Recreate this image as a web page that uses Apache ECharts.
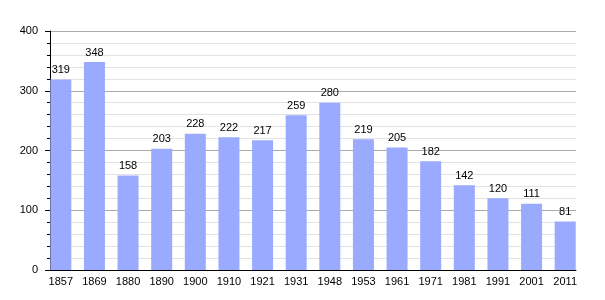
<!DOCTYPE html>
<html><head><meta charset="utf-8">
<script src="https://cdn.jsdelivr.net/npm/echarts@6/dist/echarts.min.js"></script>
<style>html,body{margin:0;padding:0;background:#fff}#c{width:605px;height:300px}</style>
</head><body><div id="c"></div>
<script>
const years = ['1857','1869','1880','1890','1900','1910','1921','1931','1948','1953','1961','1971','1981','1991','2001','2011'];
const population = [319,348,158,203,228,222,217,259,280,219,205,182,142,120,111,81];
const yTicks = [0,100,200,300,400];
const FONT = 'Liberation Sans, Arial';
const yMin = yTicks[0], yMax = yTicks[yTicks.length-1];

const chart = echarts.init(document.getElementById('c'), null, {renderer:'canvas'});
chart.setOption({
  animation:false,
  grid:[
    {left:50,right:29,top:31,bottom:30},   // frame: y axis, gridlines, baseline
    {left:44,right:23,top:31,bottom:30}    // bars and year labels
  ],
  xAxis:[
    {gridIndex:0,type:'value',min:0,max:1,
      axisLine:{show:true,onZero:false,lineStyle:{color:'#000',width:1}},
      axisTick:{show:false},axisLabel:{show:false},splitLine:{show:false}},
    {gridIndex:1,type:'category',data:years,
      axisLine:{show:false},axisTick:{show:false},
      axisLabel:{color:'#000',fontFamily:FONT,fontSize:11,margin:6,interval:0}}
  ],
  yAxis:[
    {gridIndex:0,type:'value',min:yMin,max:yMax,interval:100,
      axisLine:{show:true,lineStyle:{color:'#000',width:1}},
      axisTick:{show:true,length:5,lineStyle:{color:'#000'}},
      minorTick:{show:true,splitNumber:5,length:3,lineStyle:{color:'#000'}},
      splitLine:{show:true,lineStyle:{color:'#aaa',width:1}},
      minorSplitLine:{show:true,lineStyle:{color:'#e2e2e2',width:1}},
      axisLabel:{color:'#000',fontFamily:FONT,fontSize:11,margin:12}},
    {gridIndex:1,type:'value',min:yMin,max:yMax,show:false,splitLine:{show:false}}
  ],
  series:[{type:'bar',xAxisIndex:1,yAxisIndex:1,data:population,barWidth:21,z:3,
    itemStyle:{color:'#99aaff'},
    label:{show:true,position:'top',distance:4,color:'#000',fontFamily:FONT,fontSize:11}}]
});
</script></body></html>
